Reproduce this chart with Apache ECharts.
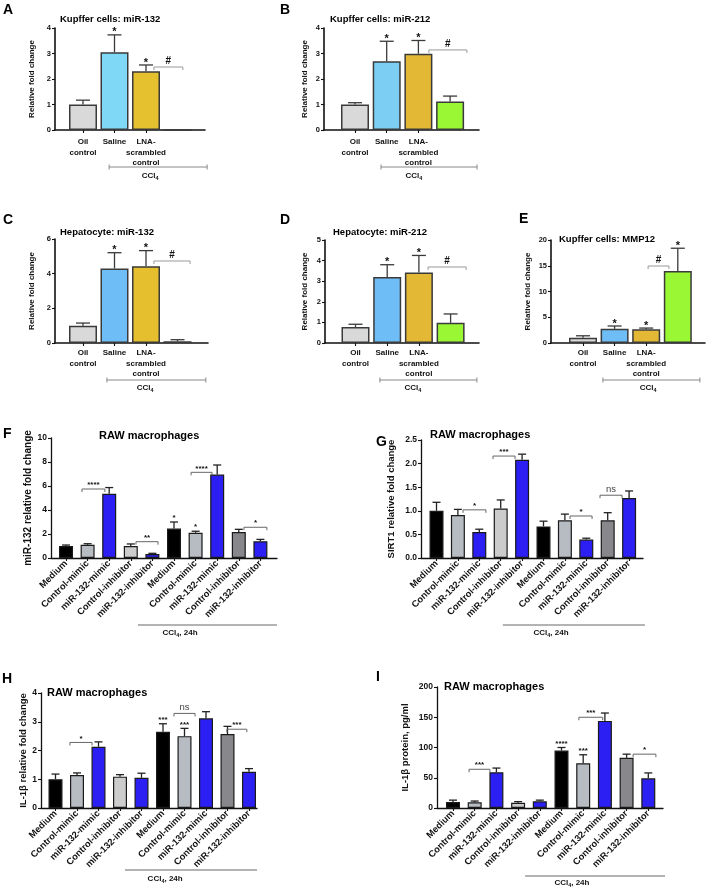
<!DOCTYPE html>
<html><head><meta charset="utf-8">
<script src="https://cdn.jsdelivr.net/npm/echarts@6/dist/echarts.min.js"></script>
<style>html,body{margin:0;padding:0;background:#fff}#c{width:708px;height:890px}</style>
</head><body><div id="c"></div>
<script>
// ---------------- DATA ----------------
const upperCats = ['Oil\ncontrol', 'Saline', 'LNA-\nscrambled\ncontrol', 'LNA-anti-\nmiR-132'];
const lowerCats = ['Medium', 'Control-mimic', 'miR-132-mimic', 'Control-inhibitor', 'miR-132-inhibitor',
                   'Medium', 'Control-mimic', 'miR-132-mimic', 'Control-inhibitor', 'miR-132-inhibitor'];

const upperYName = 'Relative fold change';

const aMean = [1.0, 3.05, 2.3, 0];
const aErr  = [0.17, 0.68, 0.25, 0];
const aStars = ['', '*', '*', ''];
const aSig = [[2.25, 3.17, 2.47, '#']];
const aTicks = [0, 1, 2, 3, 4];

const bMean = [1.0, 2.7, 2.99, 1.12];
const bErr  = [0.07, 0.78, 0.52, 0.21];
const bStars = ['', '*', '*', ''];
const bSig = [[2.33, 3.53, 3.14, '#']];
const bTicks = [0, 1, 2, 3, 4];

const cMean = [1.0, 4.3, 4.43, 0.1];
const cErr  = [0.15, 0.91, 0.9, 0.09];
const cStars = ['', '*', '*', ''];
const cSig = [[2.25, 3.4, 4.73, '#']];
const cTicks = [0, 2, 4, 6];

const dMean = [0.78, 3.2, 3.42, 0.98];
const dErr  = [0.13, 0.6, 0.83, 0.43];
const dStars = ['', '*', '*', ''];
const dSig = [[2.29, 3.49, 3.69, '#']];
const dTicks = [0, 1, 2, 3, 4, 5];

const eMean = [1.0, 2.75, 2.65, 14.0];
const eErr  = [0.4, 0.55, 0.25, 4.4];
const eStars = ['', '*', '*', '*'];
const eSig = [[2.06, 2.72, 14.95, '#']];
const eTicks = [0, 5, 10, 15, 20];

const fMean = [1.0, 1.1, 5.35, 1.0, 0.33, 2.45, 2.1, 6.95, 2.17, 1.39];
const fErr  = [0.08, 0.09, 0.52, 0.17, 0.06, 0.55, 0.13, 0.8, 0.22, 0.16];
const fStars = ['', '', '', '', '', '*', '*', '', '', ''];
const fSig = [[0.74, 1.8, 5.75, '****'], [3.24, 4.26, 1.36, '**'], [5.79, 6.76, 7.14, '****'], [8.24, 9.3, 2.56, '*']];
const fTicks = [0, 2, 4, 6, 8, 10];

const gMean = [1.0, 0.91, 0.55, 1.05, 2.08, 0.67, 0.8, 0.39, 0.8, 1.27];
const gErr  = [0.18, 0.12, 0.06, 0.18, 0.12, 0.11, 0.13, 0.03, 0.16, 0.15];
const gStars = ['', '', '', '', '', '', '', '', '', ''];
const gSig = [[1.24, 2.31, 1.02, '*'], [2.64, 3.67, 2.16, '***'], [6.24, 7.27, 0.89, '*'], [7.64, 8.67, 1.33, 'ns']];
const gTicks = [0, 0.5, 1.0, 1.5, 2.0, 2.5];

const hMean = [1.0, 1.15, 2.13, 1.09, 1.05, 2.65, 2.5, 3.12, 2.57, 1.26];
const hErr  = [0.18, 0.07, 0.17, 0.07, 0.16, 0.28, 0.27, 0.23, 0.27, 0.11];
const hStars = ['', '', '', '', '', '***', '***', '', '', ''];
const hSig = [[0.67, 1.7, 2.28, '*'], [5.51, 6.49, 3.29, 'ns'], [7.97, 8.9, 2.74, '***']];
const hTicks = [0, 1, 2, 3, 4];

const iMean = [10, 9.5, 59, 8.5, 11, 95, 74, 144, 83, 49];
const iErr  = [3, 2, 7, 2, 2, 5, 14, 13, 6, 9];
const iStars = ['', '', '', '', '', '****', '***', '', '', ''];
const iSig = [[0.74, 1.7, 64, '***'], [5.8, 6.9, 150, '***'], [8.3, 9.35, 89, '*']];
const iTicks = [0, 50, 100, 150, 200];

const aColors = ['#d9d9d9', '#80d8f7', '#e6c12f', '#99f733'];
const bColors = ['#d9d9d9', '#7ccff3', '#e3b834', '#99f733'];
const cColors = ['#d9d9d9', '#6fbdf6', '#e6bf2e', '#99f733'];
const dColors = ['#d9d9d9', '#6fbdf6', '#e3b834', '#99f733'];
const eColors = ['#d9d9d9', '#6fbdf6', '#e3b834', '#99f733'];
const lowerColors = ['#000000', '#b7bbc2', '#2c1ff3', '#cccccc', '#2c1ff3',
                     '#000000', '#b7bbc2', '#2c1ff3', '#88888c', '#2c1ff3'];

// ---------------- LAYOUT ----------------
const FF = '"Liberation Sans", Arial, sans-serif';
const L = {
  A: {left: 55, top: 28, width: 150, height: 102, x0: 83, unit: 31.5, letter: [3, 3], title: [60, 19], nameGap: 19, lm: 7, group: [0.83, 3.94, 2.13], gOff: [37, 46]},
  B: {left: 324, top: 28, width: 155, height: 102, x0: 355, unit: 31.7, letter: [280, 3], title: [330, 19], nameGap: 15, lm: 7, group: [0.82, 3.85, 1.86], gOff: [37, 46]},
  C: {left: 55, top: 239, width: 153, height: 104, x0: 83, unit: 31.5, letter: [3, 213], title: [60, 232], nameGap: 19, lm: 5, group: [0.76, 3.9, 1.97], gOff: [37, 45]},
  D: {left: 325, top: 240, width: 154, height: 103, x0: 355.5, unit: 31.7, letter: [280, 213], title: [333, 232], nameGap: 16, lm: 5, group: [0.77, 3.83, 1.81], gOff: [37, 45]},
  E: {left: 551, top: 240, width: 154, height: 103, x0: 583, unit: 31.6, letter: [519, 212], title: [559, 239], nameGap: 19, lm: 5, group: [0.63, 3.7, 2.06], gOff: [37, 45]},
  F: {left: 51, top: 438, width: 226, height: 120, x0: 66, unit: 21.6, letter: [3, 427], title: [99, 436], nameGap: 17, lm: 4, group: [3.33, 9.77, 5.28], gOff: [67, 75]},
  G: {left: 421, top: 440, width: 222, height: 118, x0: 436.5, unit: 21.4, letter: [376, 435], title: [430, 435], nameGap: 25, lm: 4, group: [3.1, 9.74, 5.35], gOff: [67, 75]},
  H: {left: 41, top: 693, width: 216, height: 115, x0: 55.5, unit: 21.5, letter: [2, 672], title: [47, 693], nameGap: 11, lm: 4, group: [3.23, 9.37, 5.1], gOff: [62, 71]},
  I: {left: 437, top: 687, width: 226, height: 121, x0: 453, unit: 21.7, letter: [376, 670], title: [444, 687], nameGap: 27, lm: 4, group: [3.32, 9.77, 5.48], gOff: [68, 75]}
};

const panels = [
  {id: 'A', title: 'Kupffer cells: miR-132', cats: upperCats, mean: aMean, err: aErr, colors: aColors, stars: aStars, sig: aSig, ticks: aTicks, yName: upperYName, lower: false, gText: 'CCl{s|4}'},
  {id: 'B', title: 'Kupffer cells: miR-212', cats: upperCats, mean: bMean, err: bErr, colors: bColors, stars: bStars, sig: bSig, ticks: bTicks, yName: upperYName, lower: false, gText: 'CCl{s|4}'},
  {id: 'C', title: 'Hepatocyte: miR-132', cats: upperCats, mean: cMean, err: cErr, colors: cColors, stars: cStars, sig: cSig, ticks: cTicks, yName: upperYName, lower: false, gText: 'CCl{s|4}'},
  {id: 'D', title: 'Hepatocyte: miR-212', cats: upperCats, mean: dMean, err: dErr, colors: dColors, stars: dStars, sig: dSig, ticks: dTicks, yName: upperYName, lower: false, gText: 'CCl{s|4}'},
  {id: 'E', title: 'Kupffer cells: MMP12', cats: upperCats, mean: eMean, err: eErr, colors: eColors, stars: eStars, sig: eSig, ticks: eTicks, yName: upperYName, lower: false, gText: 'CCl{s|4}'},
  {id: 'F', title: 'RAW macrophages', cats: lowerCats, mean: fMean, err: fErr, colors: lowerColors, stars: fStars, sig: fSig, ticks: fTicks, yName: 'miR-132 relative fold change', lower: true, gText: 'CCl{s|4}, 24h'},
  {id: 'G', title: 'RAW macrophages', cats: lowerCats, mean: gMean, err: gErr, colors: lowerColors, stars: gStars, sig: gSig, ticks: gTicks, yName: 'SIRT1 relative fold change', lower: true, gText: 'CCl{s|4}, 24h', dec: 1},
  {id: 'H', title: 'RAW macrophages', cats: lowerCats, mean: hMean, err: hErr, colors: lowerColors, stars: hStars, sig: hSig, ticks: hTicks, yName: 'IL-1β relative fold change', lower: true, gText: 'CCl{s|4}, 24h'},
  {id: 'I', title: 'RAW macrophages', cats: lowerCats, mean: iMean, err: iErr, colors: lowerColors, stars: iStars, sig: iSig, ticks: iTicks, yName: 'IL-1β protein, pg/ml', lower: true, gText: 'CCl{s|4}, 24h'}
];

const grids = [], xAxes = [], yAxes = [], series = [], graphics = [];

panels.forEach((p, k) => {
  const l = L[p.id];
  const low = p.lower;
  const idx = p.cats.map((_, i) => i);
  grids.push({left: l.left, top: l.top, width: l.width, height: l.height, containLabel: false, outerBoundsMode: 'none'});
  const xMin = (l.left - l.x0) / l.unit, xMax = (l.left + l.width - l.x0) / l.unit;
  xAxes.push({
    gridIndex: k, type: 'value', min: xMin, max: xMax,
    axisLine: {show: true, onZero: false, lineStyle: {color: '#111', width: low ? 1.3 : 1.6}},
    axisTick: {show: true, customValues: idx, length: 3, inside: false, lineStyle: {color: '#111', width: 1.1}},
    axisLabel: {
      customValues: idx, formatter: v => p.cats[Math.round(v)], interval: 0,
      rotate: low ? 45 : 0, margin: l.lm, color: '#111', fontFamily: FF, fontWeight: 'bold',
      fontSize: low ? 9.3 : 8, lineHeight: low ? 11 : 10.5, align: low ? undefined : 'center'
    },
    splitLine: {show: false}
  });
  const t = p.ticks;
  yAxes.push({
    gridIndex: k, type: 'value', min: t[0], max: t[t.length - 1], interval: t[1] - t[0],
    axisLine: {show: true, onZero: false, lineStyle: {color: '#111', width: low ? 1.3 : 1.6}},
    axisTick: {show: true, length: 3, inside: false, lineStyle: {color: '#111', width: 1.1}},
    axisLabel: {margin: 4, color: '#111', fontFamily: FF, fontWeight: 'bold', fontSize: low ? 8.5 : 7.5,
      formatter: v => p.dec ? v.toFixed(p.dec) : String(v)},
    splitLine: {show: false},
    name: p.yName, nameLocation: 'middle', nameGap: l.nameGap,
    nameTextStyle: {fontFamily: FF, fontWeight: 'bold', fontSize: low ? (p.id === 'F' ? 10 : 9.5) : 8, color: '#111'}
  });

  // bars
  series.push({
    type: 'bar', xAxisIndex: k, yAxisIndex: k, barWidth: low ? 14 : 28,
    data: p.mean.map((v, i) => ({value: [i, v], itemStyle: {color: p.colors[i]}})),
    itemStyle: {borderColor: low ? '#1a1a1a' : '#3a3a3a', borderWidth: low ? 1.2 : 1.5},
    animation: false, silent: true, z: 2
  });

  // error bars
  const capW = low ? 8 : 14;
  series.push({
    type: 'custom', xAxisIndex: k, yAxisIndex: k, z: 3, animation: false, silent: true,
    data: p.mean.map((v, i) => [i, v, v + p.err[i]]),
    encode: {x: 0, y: [1, 2]},
    renderItem: (params, api) => {
      const x = api.value(0), lo = api.value(1), hi = api.value(2);
      if (hi - lo <= 0) return null;
      const p1 = api.coord([x, lo]), p2 = api.coord([x, hi]);
      const st = {stroke: low ? '#222' : '#3a3a3a', lineWidth: 1.3};
      return {type: 'group', children: [
        {type: 'line', shape: {x1: p1[0], y1: p1[1], x2: p2[0], y2: p2[1]}, style: st},
        {type: 'line', shape: {x1: p2[0] - capW / 2, y1: p2[1], x2: p2[0] + capW / 2, y2: p2[1]}, style: st}
      ]};
    }
  });

  // stars above bars
  const starItems = [];
  p.stars.forEach((s, i) => { if (s) starItems.push({i: i, y: p.mean[i] + p.err[i], t: s}); });
  if (starItems.length) {
    series.push({
      type: 'custom', xAxisIndex: k, yAxisIndex: k, z: 4, animation: false, silent: true, clip: false,
      data: starItems.map(o => [o.i, o.y]),
      renderItem: (params, api) => {
        const c = api.coord([api.value(0), api.value(1)]);
        const o = starItems[params.dataIndex];
        return {type: 'text', x: c[0], y: c[1] + (low ? 0 : 3),
          style: {text: o.t, font: low ? 'bold 8px ' + FF : 'bold 11px ' + FF, fill: '#111', textAlign: 'center', textVerticalAlign: 'bottom'}};
      }
    });
  }

  // significance brackets
  series.push({
    type: 'custom', xAxisIndex: k, yAxisIndex: k, z: 4, animation: false, silent: true, clip: false,
    data: p.sig.map(b => [b[0], b[2]]),
    renderItem: (params, api) => {
      const b = p.sig[params.dataIndex];
      const c1 = api.coord([b[0], b[2]]), c2 = api.coord([b[1], b[2]]);
      const y = c1[1], d = 3;
      const isNs = b[3] === 'ns';
      const lineColor = low ? '#666' : '#999';
      return {type: 'group', children: [
        {type: 'polyline', shape: {points: [[c1[0], y + d], [c1[0], y], [c2[0], y], [c2[0], y + d]]},
          style: {stroke: lineColor, lineWidth: 1, fill: 'none'}},
        {type: 'text', x: (c1[0] + c2[0]) / 2, y: y - (isNs ? 1 : (low ? 0 : 1)),
          style: {text: b[3], fill: isNs ? '#444' : '#111',
            font: isNs ? 'normal 9.5px ' + FF : (low ? 'bold 8px ' + FF : 'bold 10px ' + FF),
            textAlign: 'center', textVerticalAlign: 'bottom'}}
      ]};
    }
  });

  // CCl4 group line
  const g = l.group;
  series.push({
    type: 'custom', xAxisIndex: k, yAxisIndex: k, z: 4, animation: false, silent: true, clip: false,
    data: [[g[0], 0]],
    renderItem: (params, api) => {
      const c1 = api.coord([g[0], 0]), c2 = api.coord([g[1], 0]), ct = api.coord([g[2], 0]);
      const y = c1[1] + l.gOff[0];
      const ch = [
        {type: 'line', shape: {x1: c1[0], y1: y, x2: c2[0], y2: y}, style: {stroke: low ? '#9a9a9a' : '#888', lineWidth: low ? 1.5 : 1}}
      ];
      if (!low) {
        ch.push({type: 'line', shape: {x1: c1[0], y1: y - 2.5, x2: c1[0], y2: y + 2.5}, style: {stroke: '#888', lineWidth: 1}});
        ch.push({type: 'line', shape: {x1: c2[0], y1: y - 2.5, x2: c2[0], y2: y + 2.5}, style: {stroke: '#888', lineWidth: 1}});
      }
      ch.push({type: 'text', x: ct[0], y: c1[1] + l.gOff[1],
        style: {text: p.gText, fill: '#111', font: 'bold 8px ' + FF,
          textAlign: 'center', textVerticalAlign: 'middle',
          rich: {s: {fontSize: 5.5, fontWeight: 'bold', fontFamily: FF, fill: '#111', padding: [5, 0, 0, 0]}}}});
      return {type: 'group', children: ch};
    }
  });

  // letter + title
  graphics.push({type: 'text', left: l.letter[0], top: l.letter[1], silent: true,
    style: {text: p.id, font: 'bold 14px ' + FF, fill: '#000'}});
  graphics.push({type: 'text', x: l.title[0], y: l.title[1], silent: true,
    style: {text: p.title, font: (low ? 'bold 11px ' : 'bold 9.5px ') + FF, fill: '#000', textAlign: 'left', textVerticalAlign: 'middle'}});
});

const chart = echarts.init(document.getElementById('c'), null, {renderer: 'canvas'});
chart.setOption({
  animation: false,
  backgroundColor: '#fff',
  grid: grids, xAxis: xAxes, yAxis: yAxes, series: series,
  graphic: graphics
});
</script></body></html>
